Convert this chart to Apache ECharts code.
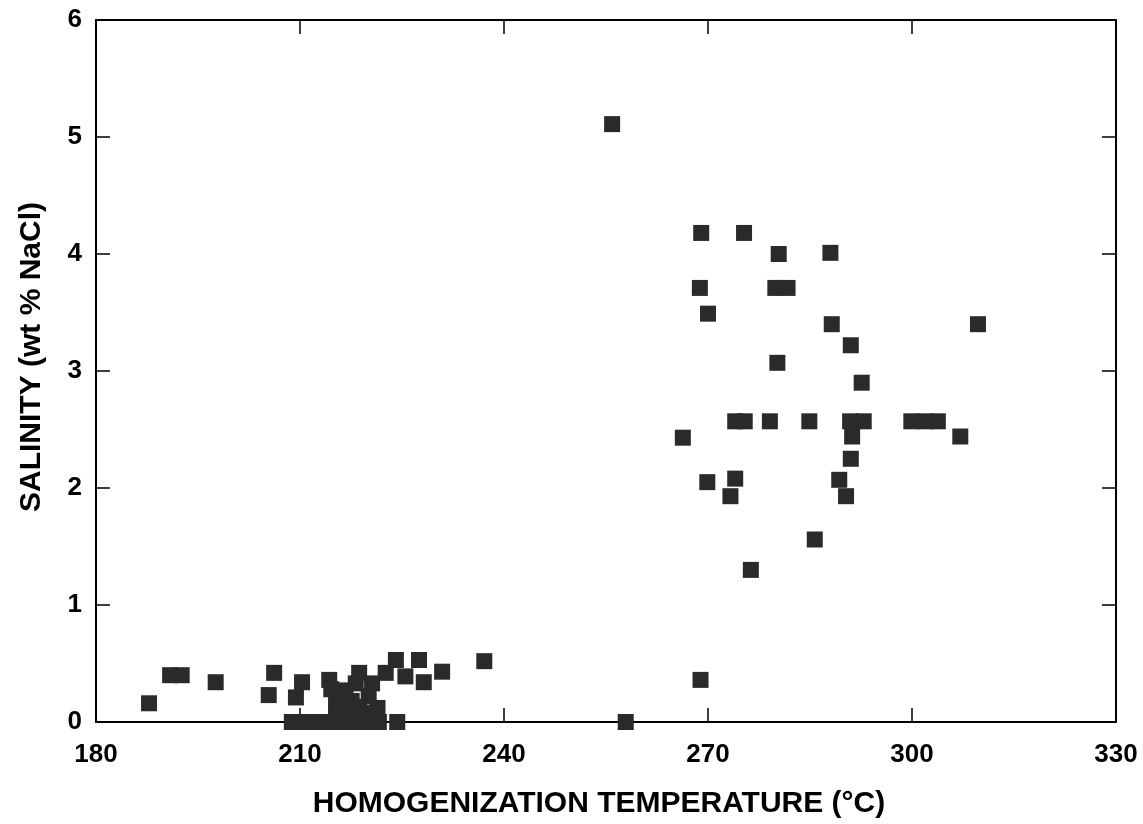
<!DOCTYPE html>
<html>
<head>
<meta charset="utf-8">
<script src="https://cdn.jsdelivr.net/npm/echarts@6/dist/echarts.min.js"></script>
<style>
html,body{margin:0;padding:0;background:#fff;}
#chart{width:1143px;height:824px;}
</style>
</head>
<body>
<div id="chart"></div>
<script>
const temperature = [
187.8,190.9,192.6,197.6,206.2,205.4,210.3,209.4,
208.8,210.5,212.5,214.5,216.5,218.5,220.0,221.6,224.3,
214.3,218.7,224.1,227.5,222.6,230.9,228.2,225.5,215.3,220.1,215.3,218.7,216.7,220.6,218.2,217.2,
221.4,214.6,217.6,219.8,216.0,
237.1,255.9,257.9,268.9,266.3,269.0,275.3,280.4,288.0,268.8,279.9,281.7,270.0,288.2,309.7,
291.0,280.2,292.6,274.0,275.4,279.1,284.9,290.9,292.9,291.2,291.0,299.9,301.9,303.8,307.1,
269.9,274.0,273.3,289.3,290.3,285.7,276.3
];
const salinity = [
0.16,0.40,0.40,0.34,0.42,0.23,0.34,0.21,
0,0,0,0,0,0,0,0,0,
0.36,0.42,0.53,0.53,0.42,0.43,0.34,0.39,0.19,0.22,0.10,0.13,0.27,0.33,0.33,0.08,
0.12,0.28,0.18,0.08,0.05,
0.52,5.11,0,0.36,2.43,4.18,4.18,4.00,4.01,3.71,3.71,3.71,3.49,3.40,3.40,
3.22,3.07,2.90,2.57,2.57,2.57,2.57,2.57,2.57,2.44,2.25,2.57,2.57,2.57,2.44,
2.05,2.08,1.93,2.07,1.93,1.56,1.30
];
const xTicks = {min:180, max:330, interval:30};
const yTicks = {min:0, max:6, interval:1};
const xTitle = 'HOMOGENIZATION TEMPERATURE (°C)';
const yTitle = 'SALINITY (wt % NaCl)';

const points = temperature.map((t,i)=>[t, salinity[i]]);
const font = '"Liberation Sans", Arial, Helvetica, sans-serif';
const lineStyle = {color:'#000', width:2};
const tickStyle = {color:'#000', width:1.5};

const chart = echarts.init(document.getElementById('chart'), null, {renderer:'canvas'});
chart.setOption({
  backgroundColor:'#fff',
  animation:false,
  grid:{left:96, right:27, top:20, bottom:102, containLabel:false},
  xAxis:[{
    type:'value', position:'bottom', min:xTicks.min, max:xTicks.max, interval:xTicks.interval,
    axisLine:{show:true, onZero:false, lineStyle:lineStyle},
    axisTick:{show:true, inside:true, length:14, lineStyle:tickStyle},
    axisLabel:{show:true, margin:20, color:'#000', fontSize:26, fontWeight:'bold', fontFamily:font},
    splitLine:{show:false}
  },{
    type:'value', position:'top', min:xTicks.min, max:xTicks.max, interval:xTicks.interval,
    axisLine:{show:true, onZero:false, lineStyle:lineStyle},
    axisTick:{show:true, inside:true, length:14, lineStyle:tickStyle},
    axisLabel:{show:false}, splitLine:{show:false}
  }],
  yAxis:[{
    type:'value', position:'left', min:yTicks.min, max:yTicks.max, interval:yTicks.interval,
    axisLine:{show:true, onZero:false, lineStyle:lineStyle},
    axisTick:{show:true, inside:true, length:14, lineStyle:tickStyle},
    axisLabel:{show:true, margin:14, color:'#000', fontSize:26, fontWeight:'bold', fontFamily:font},
    splitLine:{show:false}
  },{
    type:'value', position:'right', min:yTicks.min, max:yTicks.max, interval:yTicks.interval,
    axisLine:{show:true, onZero:false, lineStyle:lineStyle},
    axisTick:{show:true, inside:true, length:14, lineStyle:tickStyle},
    axisLabel:{show:false}, splitLine:{show:false}
  }],
  series:[{
    type:'scatter', xAxisIndex:0, yAxisIndex:0,
    data:points, symbol:'rect', symbolSize:16, clip:false,
    itemStyle:{color:'#2a2a2a', opacity:1}
  }],
  graphic:[{
    type:'text', x:599, y:804,
    style:{text:xTitle, fill:'#000', font:'bold 30px ' + font, textAlign:'center', textVerticalAlign:'middle'}
  },{
    type:'text', x:32, y:357, rotation:Math.PI/2,
    style:{text:yTitle, fill:'#000', font:'bold 30px ' + font, textAlign:'center', textVerticalAlign:'middle'}
  }]
});
</script>
</body>
</html>
